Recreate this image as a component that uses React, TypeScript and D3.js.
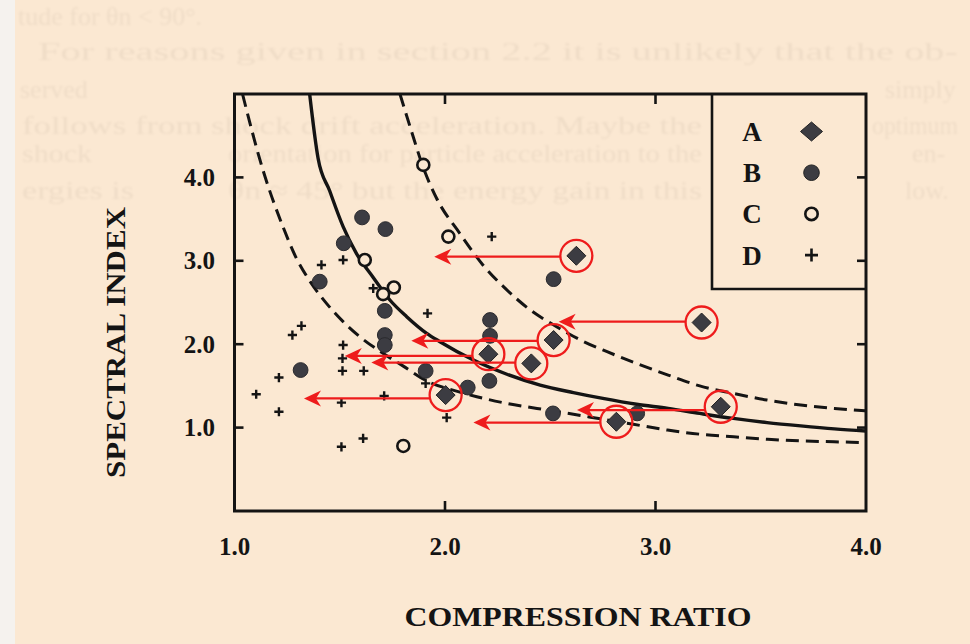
import React from "react";
import * as d3 from "d3";

// Observed points: [compression ratio, spectral index]
const seriesA: [number, number][] = [
  [2.624, 3.06], [3.219, 2.26], [2.516, 2.05], [2.206, 1.88],
  [2.41, 1.77], [2.003, 1.39], [3.31, 1.25], [2.814, 1.07],
];
// Where each A event moves to (compression ratio) and the arrow's index level
const arrowTargets: number[] = [1.949, 2.54, 1.84, 1.524, 1.65, 1.33, 2.627, 2.135];
const arrowLevels: number[] = [3.05, 2.27, 2.04, 1.86, 1.78, 1.35, 1.21, 1.06];

const seriesB: [number, number][] = [
  [1.606, 3.52], [1.717, 3.38], [1.519, 3.21], [1.405, 2.75],
  [1.714, 2.40], [1.714, 2.11], [1.714, 1.99], [1.314, 1.69],
  [1.908, 1.68], [2.108, 1.48], [2.214, 2.29], [2.214, 2.10],
  [2.211, 1.56], [2.516, 2.78], [2.513, 1.17], [2.913, 1.17],
];
const seriesC: [number, number][] = [
  [1.897, 4.15], [2.016, 3.29], [1.619, 3.01], [1.757, 2.68],
  [1.706, 2.60], [1.802, 0.78],
];
const seriesD: [number, number][] = [
  [1.516, 3.01], [1.413, 2.95], [1.659, 2.67], [1.917, 2.37],
  [1.318, 2.22], [1.275, 2.11], [1.516, 1.99], [1.513, 1.83],
  [1.513, 1.68], [1.614, 1.68], [1.211, 1.60], [1.103, 1.40],
  [1.211, 1.19], [1.508, 1.30], [1.711, 1.38], [1.908, 1.53],
  [2.008, 1.12], [1.508, 0.77], [1.611, 0.87], [2.222, 3.29],
];

// Theory curve and its upper / lower bounds
const curveMid: [number, number][] = [
  [1.357, 5.0], [1.397, 4.23], [1.452, 3.84], [1.516, 3.41], [1.579, 3.09],
  [1.659, 2.80], [1.738, 2.53], [1.818, 2.33], [1.913, 2.13], [1.976, 2.03],
  [2.135, 1.81], [2.294, 1.64], [2.452, 1.51], [2.61, 1.42], [2.75, 1.35],
  [2.91, 1.28], [3.06, 1.23], [3.21, 1.17], [3.37, 1.11], [3.53, 1.06],
  [3.69, 1.02], [3.85, 0.985], [4.0, 0.96],
];
const curveUpper: [number, number][] = [
  [1.786, 5.0], [1.84, 4.56], [1.895, 4.13], [1.96, 3.75], [2.07, 3.33],
  [2.18, 2.95], [2.29, 2.66], [2.40, 2.42], [2.53, 2.21], [2.66, 2.03],
  [2.77, 1.91], [2.90, 1.78], [3.06, 1.63], [3.21, 1.50], [3.37, 1.41],
  [3.53, 1.33], [3.69, 1.27], [3.85, 1.23], [4.0, 1.20],
];
const curveLower: [number, number][] = [
  [1.038, 5.0], [1.135, 4.09], [1.23, 3.41], [1.294, 3.03], [1.357, 2.76],
  [1.437, 2.49], [1.516, 2.27], [1.60, 2.08], [1.70, 1.90], [1.80, 1.74],
  [1.913, 1.56], [2.05, 1.44], [2.151, 1.37], [2.294, 1.29], [2.437, 1.23],
  [2.61, 1.16], [2.75, 1.10], [2.895, 1.04], [3.057, 0.97], [3.214, 0.92],
  [3.371, 0.89], [3.533, 0.86], [3.69, 0.84], [3.848, 0.83], [4.0, 0.82],
];

const xTicks: number[] = [1.0, 2.0, 3.0, 4.0];
const yTicks: number[] = [1.0, 2.0, 3.0, 4.0];
const legendLabels: string[] = ["A", "B", "C", "D"];

// Faint text from the printed page behind the figure: [text, x, baseline, width]
const pageLines: [string, number, number, number | null][] = [
  ["tude for θn < 90°.", 18, 25, null],
  ["For reasons given in section 2.2 it is unlikely that the ob-", 38, 60, 920],
  ["served", 20, 98, null],
  ["simply", 885, 98, null],
  ["follows from shock drift acceleration. Maybe the", 22, 134, 680],
  ["optimum", 872, 134, 86],
  ["shock", 22, 162, 70],
  ["orientation for particle acceleration to the", 228, 162, 474],
  ["en-", 912, 162, null],
  ["ergies is", 22, 199, 112],
  ["θn ≈ 45° but the energy gain in this", 228, 199, 474],
  ["low.", 905, 199, null],
];

const W = 970;
const H = 644;
const left = 234.5;
const right = 866;
const top = 94;
const bottom = 511;

const x = d3.scaleLinear().domain([1, 4]).range([left, right]);
const y = d3.scaleLinear().domain([0, 5]).range([bottom, top]);

const line = d3
  .line<[number, number]>()
  .x((d) => x(d[0]))
  .y((d) => y(d[1]))
  .curve(d3.curveMonotoneX);

const INK = "#141414";
const MARK = "#3c3c42";
const RED = "#ee1c1c";
const PAPER = "#fbe8d2";
const SERIF = "'Liberation Serif', 'Times New Roman', serif";

const diamond = (h: number, v: number) => `M0,${-v}L${h},0L0,${v}L${-h},0Z`;
const plus = (s: number) => `M${-s},0H${s}M0,${-s}V${s}`;

export default function App() {
  const legendX0 = 712;
  const legendY1 = 289;

  return (
    <svg
      width={W}
      height={H}
      viewBox={`0 0 ${W} ${H}`}
      style={{ position: "absolute", left: 0, top: 0, display: "block" }}
    >
      <defs>
        <clipPath id="plotClip">
          <rect x={left} y={top} width={right - left} height={bottom - top} />
        </clipPath>
        <filter id="soft" x="-5%" y="-50%" width="110%" height="200%">
          <feGaussianBlur stdDeviation={0.9} />
        </filter>
      </defs>
      <rect x={0} y={0} width={W} height={H} fill={PAPER} />
      <rect x={0} y={0} width={15} height={H} fill="#f5f2ee" />

      {/* page text showing through */}
      <g fill="#7d6c5c" opacity={0.09} fontFamily={SERIF} fontSize={26} filter="url(#soft)">
        {pageLines.map(([t, px, py, w], i) => (
          <text
            key={"pl" + i}
            x={px}
            y={py}
            textLength={w ?? undefined}
            lengthAdjust={w ? "spacingAndGlyphs" : undefined}
          >
            {t}
          </text>
        ))}
      </g>

      {/* curves */}
      <g clipPath="url(#plotClip)" fill="none" stroke={INK}>
        <path d={line(curveMid) ?? ""} strokeWidth={3.4} />
        <path d={line(curveUpper) ?? ""} strokeWidth={3} strokeDasharray="13,7" />
        <path d={line(curveLower) ?? ""} strokeWidth={3} strokeDasharray="13,7" />
      </g>

      {/* frame */}
      <rect
        x={left}
        y={top}
        width={right - left}
        height={bottom - top}
        fill="none"
        stroke={INK}
        strokeWidth={3}
      />
      {/* inward ticks */}
      <g stroke={INK} strokeWidth={2.6}>
        {yTicks.map((t) => (
          <g key={"yt" + t}>
            <line x1={left} x2={left + 9} y1={y(t)} y2={y(t)} />
            <line x1={right} x2={right - 9} y1={y(t)} y2={y(t)} />
          </g>
        ))}
        {xTicks
          .filter((t) => t > 1 && t < 4)
          .map((t) => (
            <g key={"xt" + t}>
              <line x1={x(t)} x2={x(t)} y1={bottom} y2={bottom - 10} />
              <line x1={x(t)} x2={x(t)} y1={top} y2={top + 10} />
            </g>
          ))}
      </g>

      {/* tick labels */}
      <g fontFamily={SERIF} fontWeight="bold" fontSize={25} fill={INK}>
        {xTicks.map((t) => (
          <text key={"xl" + t} x={x(t)} y={555} textAnchor="middle">
            {t.toFixed(1)}
          </text>
        ))}
        {yTicks.map((t) => (
          <text key={"yl" + t} x={215} y={y(t) + 8.5} textAnchor="end">
            {t.toFixed(1)}
          </text>
        ))}
      </g>

      {/* axis titles */}
      <text
        x={578}
        y={626}
        textAnchor="middle"
        fontFamily={SERIF}
        fontWeight="bold"
        fontSize={27}
        fill={INK}
        textLength={347}
        lengthAdjust="spacingAndGlyphs"
      >
        COMPRESSION RATIO
      </text>
      <text
        transform="translate(125,342.5) rotate(-90)"
        textAnchor="middle"
        fontFamily={SERIF}
        fontWeight="bold"
        fontSize={28}
        fill={INK}
        textLength={271}
        lengthAdjust="spacingAndGlyphs"
      >
        SPECTRAL INDEX
      </text>

      {/* legend */}
      <path
        d={`M${legendX0},${top}V${legendY1}H${right}`}
        fill="none"
        stroke={INK}
        strokeWidth={2.6}
      />
      {legendLabels.map((lab, i) => {
        const ly = 131.5 + i * 41.2;
        return (
          <g key={lab}>
            <text
              x={752}
              y={ly + 9.5}
              textAnchor="middle"
              fontFamily={SERIF}
              fontWeight="bold"
              fontSize={27}
              fill={INK}
            >
              {lab}
            </text>
            <g transform={`translate(811.5,${ly})`}>
              {i === 0 && <path d={diamond(11, 9.5)} fill={MARK} stroke="#222" strokeWidth={1} />}
              {i === 1 && <circle r={7.8} fill={MARK} stroke="#222" strokeWidth={1} />}
              {i === 2 && <circle r={6.2} fill="none" stroke={INK} strokeWidth={2.6} />}
              {i === 3 && <path d={plus(6.5)} stroke={INK} strokeWidth={2.6} />}
            </g>
          </g>
        );
      })}

      {/* data */}
      <g>
        {seriesD.map((d, i) => (
          <path
            key={"d" + i}
            transform={`translate(${x(d[0])},${y(d[1])})`}
            d={plus(4.6)}
            stroke={INK}
            strokeWidth={2.4}
          />
        ))}
        {seriesC.map((d, i) => (
          <circle
            key={"c" + i}
            cx={x(d[0])}
            cy={y(d[1])}
            r={6}
            fill={PAPER}
            stroke={INK}
            strokeWidth={2.6}
          />
        ))}
        {seriesB.map((d, i) => (
          <circle
            key={"b" + i}
            cx={x(d[0])}
            cy={y(d[1])}
            r={7.4}
            fill={MARK}
            stroke="#2a2a2e"
            strokeWidth={1}
          />
        ))}
        {seriesA.map((d, i) => (
          <path
            key={"a" + i}
            transform={`translate(${x(d[0])},${y(d[1])})`}
            d={diamond(9.5, 9.5)}
            fill={MARK}
            stroke="#222"
            strokeWidth={1}
          />
        ))}
      </g>

      {/* shifts of the A events */}
      <g stroke={RED} fill="none" strokeWidth={2.3}>
        {seriesA.map((d, i) => {
          const cx = x(d[0]);
          const cy = y(d[1]);
          const ay = y(arrowLevels[i]);
          const tip = x(arrowTargets[i]);
          return (
            <g key={"r" + i}>
              <circle cx={cx} cy={cy} r={16} />
              <line x1={cx - Math.sqrt(Math.max(0, 256 - (ay - cy) ** 2))} x2={tip + 10} y1={ay} y2={ay} />
              <path
                transform={`translate(${tip},${ay})`}
                d="M0,0L17,-8L12,0L17,8Z"
                fill={RED}
                stroke="none"
              />
            </g>
          );
        })}
      </g>
    </svg>
  );
}
